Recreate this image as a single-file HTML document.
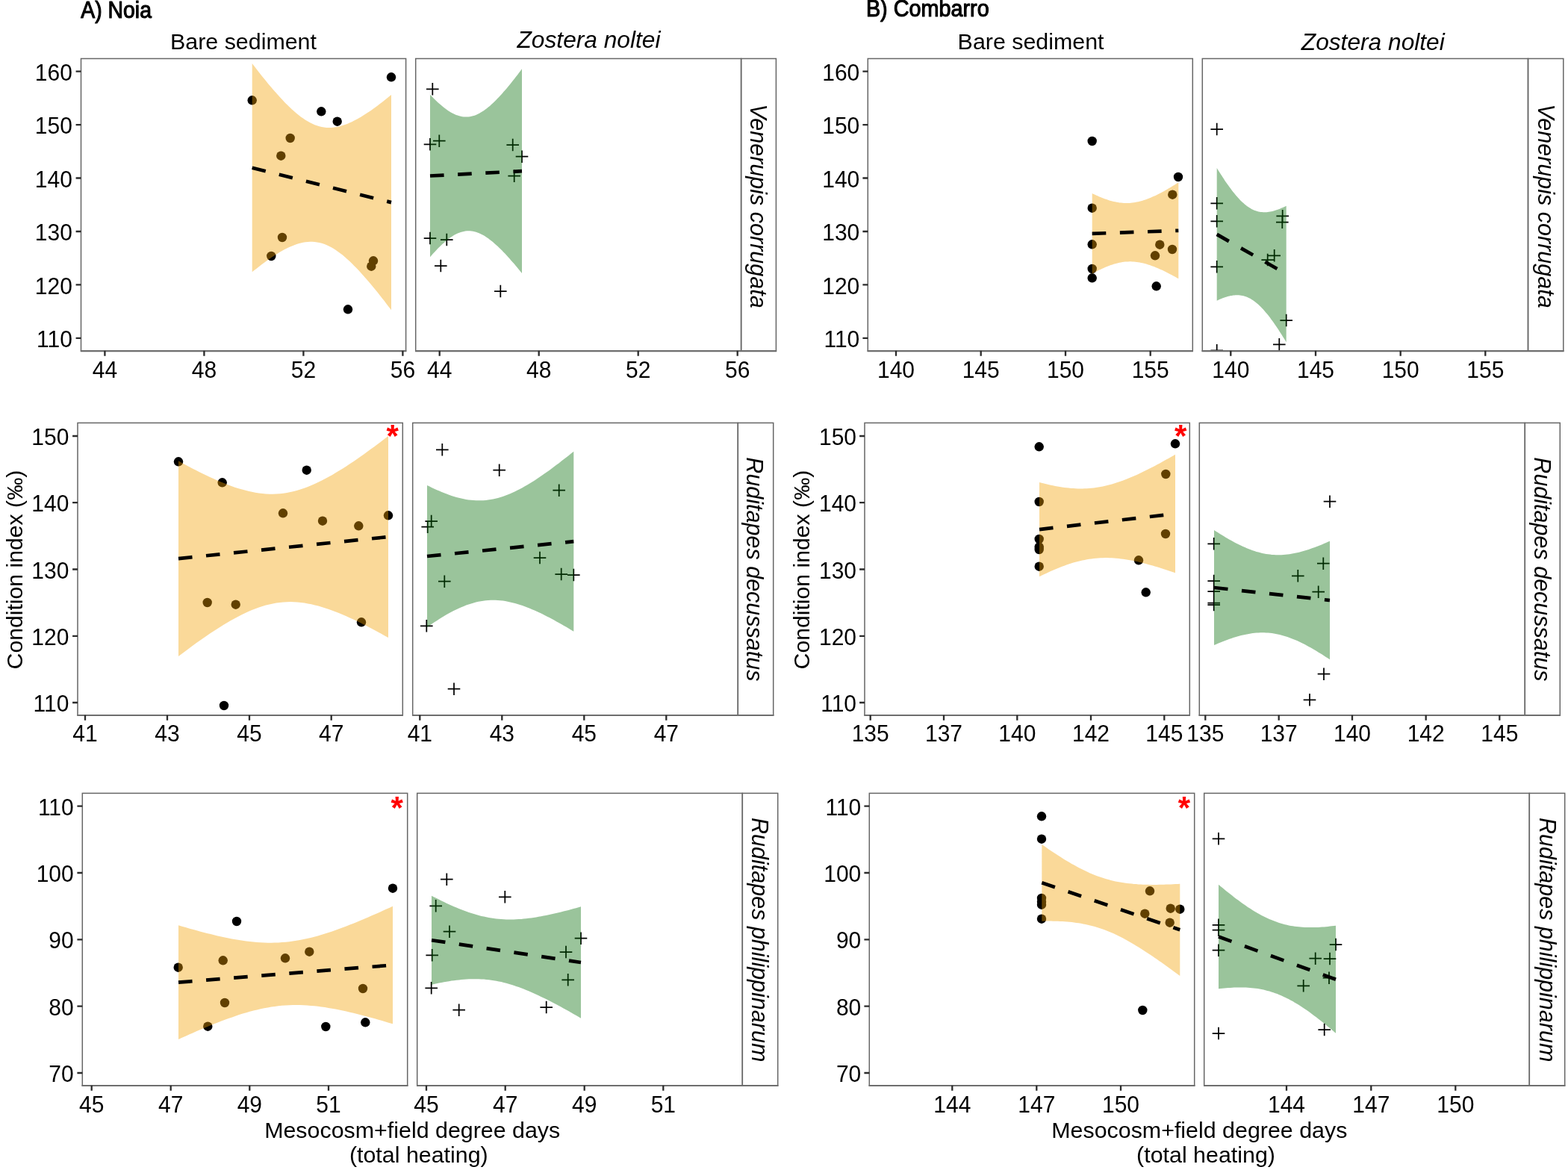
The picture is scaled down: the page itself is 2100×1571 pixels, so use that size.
<!DOCTYPE html>
<html lang="en">
<head>
<meta charset="utf-8">
<title>Condition index vs. mesocosm+field degree days</title>
<style>
html,body{margin:0;padding:0;background:#fff;}
body{width:2100px;height:1571px;}
svg{display:block;}
text{font-family:"Liberation Sans", Arial, Helvetica, sans-serif;fill:#000;}
.t{font-size:30.4px;}
.ax{font-size:30px;}
.it{font-style:italic;}
.ttl{font-size:29px;stroke:#000;stroke-width:1.05px;stroke-linejoin:round;}
.star{font-size:42px;font-weight:bold;fill:#ff0000;}
.bd{fill:none;stroke:#666666;stroke-width:1.5px;}
.bb{fill:none;stroke:#6e6e6e;stroke-width:2.2px;}
.tk{stroke:#2b2b2b;stroke-width:2.3px;fill:none;}
.pt{fill:#000;}
.cr{stroke:#000;stroke-width:1.75px;fill:none;}
.ln{stroke:#000;stroke-width:4.7px;stroke-dasharray:18.6 18.6;fill:none;}
.ro{fill:rgb(242,160,0);fill-opacity:0.4;}
.rg{fill:rgb(2,108,6);fill-opacity:0.4;}
</style>
</head>
<body>
<svg width="2100" height="1571" viewBox="0 0 2100 1571">
<rect x="0" y="0" width="2100" height="1571" fill="#ffffff"/>
<defs>
<clipPath id="cA1"><rect x="108.5" y="78.5" width="435.1" height="391.3"/></clipPath>
<clipPath id="cA2"><rect x="556.7" y="78.5" width="435.9" height="391.3"/></clipPath>
<clipPath id="cB1"><rect x="1162.3" y="78.5" width="435.0" height="391.3"/></clipPath>
<clipPath id="cB2"><rect x="1610.3" y="78.5" width="436.2" height="391.3"/></clipPath>
<clipPath id="cA3"><rect x="104.0" y="566.4" width="435.3" height="391.4"/></clipPath>
<clipPath id="cA4"><rect x="552.7" y="566.4" width="435.6" height="391.4"/></clipPath>
<clipPath id="cB3"><rect x="1158.0" y="566.4" width="435.3" height="391.4"/></clipPath>
<clipPath id="cB4"><rect x="1606.3" y="566.4" width="436.0" height="391.4"/></clipPath>
<clipPath id="cA5"><rect x="110.3" y="1062.4" width="435.4" height="391.4"/></clipPath>
<clipPath id="cA6"><rect x="558.7" y="1062.4" width="435.6" height="391.4"/></clipPath>
<clipPath id="cB5"><rect x="1164.3" y="1062.4" width="435.4" height="391.4"/></clipPath>
<clipPath id="cB6"><rect x="1612.7" y="1062.4" width="435.6" height="391.4"/></clipPath>
</defs>
<g id="panel-A1">
<rect x="108.5" y="78.5" width="435.1" height="391.3" fill="#fff"/>
<g clip-path="url(#cA1)">
<circle class="pt" cx="524.0" cy="103.3" r="6.2"/>
<circle class="pt" cx="337.7" cy="134.3" r="6.2"/>
<circle class="pt" cx="430.3" cy="149.3" r="6.2"/>
<circle class="pt" cx="451.7" cy="162.7" r="6.2"/>
<circle class="pt" cx="388.7" cy="185.0" r="6.2"/>
<circle class="pt" cx="376.3" cy="208.7" r="6.2"/>
<circle class="pt" cx="378.0" cy="318.0" r="6.2"/>
<circle class="pt" cx="363.3" cy="343.0" r="6.2"/>
<circle class="pt" cx="500.0" cy="349.3" r="6.2"/>
<circle class="pt" cx="497.3" cy="356.7" r="6.2"/>
<circle class="pt" cx="466.0" cy="414.3" r="6.2"/>
<path class="ro" d="M337.7,85.0 L340.8,89.0 L343.9,93.0 L347.0,97.0 L350.1,100.9 L353.2,104.8 L356.3,108.6 L359.4,112.4 L362.5,116.1 L365.6,119.7 L368.8,123.3 L371.9,126.8 L375.0,130.3 L378.1,133.6 L381.2,136.9 L384.3,140.0 L387.4,143.1 L390.5,146.0 L393.6,148.8 L396.7,151.5 L399.8,154.0 L402.9,156.4 L406.0,158.6 L409.1,160.7 L412.2,162.6 L415.3,164.3 L418.4,165.8 L421.5,167.2 L424.6,168.3 L427.7,169.3 L430.9,170.0 L434.0,170.5 L437.1,170.9 L440.2,171.0 L443.3,171.0 L446.4,170.7 L449.5,170.3 L452.6,169.8 L455.7,169.0 L458.8,168.1 L461.9,167.1 L465.0,165.9 L468.1,164.6 L471.2,163.2 L474.3,161.6 L477.4,160.0 L480.5,158.3 L483.6,156.4 L486.7,154.5 L489.8,152.5 L492.9,150.5 L496.1,148.4 L499.2,146.2 L502.3,143.9 L505.4,141.7 L508.5,139.3 L511.6,136.9 L514.7,134.5 L517.8,132.0 L520.9,129.5 L524.0,127.0 L524.0,415.3 L520.9,411.2 L517.8,407.2 L514.7,403.1 L511.6,399.2 L508.5,395.2 L505.4,391.3 L502.3,387.5 L499.2,383.7 L496.1,380.0 L492.9,376.3 L489.8,372.7 L486.7,369.2 L483.6,365.7 L480.5,362.3 L477.4,359.1 L474.3,355.9 L471.2,352.8 L468.1,349.8 L465.0,347.0 L461.9,344.2 L458.8,341.6 L455.7,339.2 L452.6,336.9 L449.5,334.8 L446.4,332.8 L443.3,331.0 L440.2,329.4 L437.1,328.0 L434.0,326.8 L430.9,325.8 L427.7,325.0 L424.6,324.4 L421.5,324.0 L418.4,323.8 L415.3,323.7 L412.2,323.9 L409.1,324.2 L406.0,324.8 L402.9,325.4 L399.8,326.3 L396.7,327.3 L393.6,328.4 L390.5,329.7 L387.4,331.0 L384.3,332.5 L381.2,334.1 L378.1,335.8 L375.0,337.6 L371.9,339.5 L368.8,341.5 L365.6,343.5 L362.5,345.6 L359.4,347.8 L356.3,350.0 L353.2,352.3 L350.1,354.6 L347.0,356.9 L343.9,359.4 L340.8,361.8 L337.7,364.3Z"/>
<line class="ln" x1="337.7" y1="224.7" x2="524.0" y2="271.1"/>
</g>
<rect class="bd" x="108.5" y="78.5" width="435.1" height="391.3"/>
<path class="bb" d="M107.8,470.1H544.4"/>
<path class="tk" d="M140.4,469.8V476.7M273.4,469.8V476.7M406.4,469.8V476.7M539.4,469.8V476.7M108.5,95.6H101.6M108.5,167.1H101.6M108.5,238.5H101.6M108.5,310.0H101.6M108.5,381.4H101.6M108.5,452.9H101.6"/>
<text class="ax" text-anchor="middle" transform="translate(140.4,505.5) scale(1,1.07)">44</text>
<text class="ax" text-anchor="middle" transform="translate(273.4,505.5) scale(1,1.07)">48</text>
<text class="ax" text-anchor="middle" transform="translate(406.4,505.5) scale(1,1.07)">52</text>
<text class="ax" text-anchor="middle" transform="translate(539.4,505.5) scale(1,1.07)">56</text>
<text class="ax" text-anchor="end" transform="translate(96.9,107.7) scale(1,1.07)">160</text>
<text class="ax" text-anchor="end" transform="translate(96.9,179.2) scale(1,1.07)">150</text>
<text class="ax" text-anchor="end" transform="translate(96.9,250.6) scale(1,1.07)">140</text>
<text class="ax" text-anchor="end" transform="translate(96.9,322.1) scale(1,1.07)">130</text>
<text class="ax" text-anchor="end" transform="translate(96.9,393.5) scale(1,1.07)">120</text>
<text class="ax" text-anchor="end" transform="translate(96.9,465.0) scale(1,1.07)">110</text>
</g>
<g id="panel-A2">
<rect x="556.7" y="78.5" width="435.9" height="391.3" fill="#fff"/>
<g clip-path="url(#cA2)">
<path class="cr" d="M571.0,119.3H587.6M579.3,111.0V127.6M567.7,193.3H584.3M576.0,185.0V201.6M580.0,188.7H596.6M588.3,180.4V197.0M678.4,194.0H695.0M686.7,185.7V202.3M690.7,209.7H707.3M699.0,201.4V218.0M680.4,235.7H697.0M688.7,227.4V244.0M567.7,319.0H584.3M576.0,310.7V327.3M590.0,321.0H606.6M598.3,312.7V329.3M582.0,356.0H598.6M590.3,347.7V364.3M662.0,390.0H678.6M670.3,381.7V398.3"/>
<path class="rg" d="M576.0,126.7 L578.0,128.8 L580.1,130.9 L582.1,133.0 L584.2,135.0 L586.2,136.9 L588.3,138.7 L590.4,140.5 L592.4,142.3 L594.5,143.9 L596.5,145.5 L598.5,147.0 L600.6,148.4 L602.6,149.7 L604.7,150.9 L606.8,152.0 L608.8,153.0 L610.9,153.9 L612.9,154.6 L615.0,155.3 L617.0,155.8 L619.0,156.2 L621.1,156.5 L623.1,156.6 L625.2,156.6 L627.2,156.5 L629.3,156.2 L631.4,155.8 L633.4,155.3 L635.5,154.7 L637.5,153.9 L639.5,153.0 L641.6,152.0 L643.6,150.8 L645.7,149.6 L647.8,148.2 L649.8,146.8 L651.9,145.2 L653.9,143.6 L656.0,141.9 L658.0,140.1 L660.0,138.2 L662.1,136.2 L664.1,134.2 L666.2,132.1 L668.2,129.9 L670.3,127.7 L672.4,125.5 L674.4,123.1 L676.5,120.8 L678.5,118.4 L680.5,115.9 L682.6,113.4 L684.6,110.9 L686.7,108.3 L688.8,105.7 L690.8,103.1 L692.9,100.4 L694.9,97.8 L697.0,95.0 L699.0,92.3 L699.0,366.0 L697.0,363.5 L694.9,361.0 L692.9,358.5 L690.8,356.0 L688.8,353.6 L686.7,351.2 L684.6,348.9 L682.6,346.6 L680.5,344.3 L678.5,342.0 L676.5,339.8 L674.4,337.7 L672.4,335.6 L670.3,333.5 L668.2,331.5 L666.2,329.6 L664.1,327.7 L662.1,325.9 L660.0,324.1 L658.0,322.5 L656.0,320.9 L653.9,319.3 L651.9,317.9 L649.8,316.6 L647.8,315.3 L645.7,314.2 L643.6,313.2 L641.6,312.3 L639.5,311.5 L637.5,310.8 L635.5,310.2 L633.4,309.8 L631.4,309.5 L629.3,309.3 L627.2,309.2 L625.2,309.3 L623.1,309.5 L621.1,309.9 L619.0,310.4 L617.0,311.0 L615.0,311.7 L612.9,312.6 L610.9,313.5 L608.8,314.6 L606.8,315.8 L604.7,317.2 L602.6,318.6 L600.6,320.1 L598.5,321.7 L596.5,323.4 L594.5,325.2 L592.4,327.0 L590.4,329.0 L588.3,331.0 L586.2,333.1 L584.2,335.2 L582.1,337.4 L580.1,339.6 L578.0,341.9 L576.0,344.3Z"/>
<line class="ln" x1="576.0" y1="235.5" x2="699.0" y2="229.2"/>
</g>
<rect class="bd" x="556.7" y="78.5" width="435.9" height="391.3"/>
<rect class="bd" x="992.6" y="78.5" width="46.8" height="391.3"/>
<text class="t it" style="font-size:30.5px" text-anchor="middle" transform="translate(1005.3,275.9) rotate(90)">Venerupis corrugata</text>
<path class="bb" d="M556.0,470.1H1040.2"/>
<path class="tk" d="M588.7,469.8V476.7M721.7,469.8V476.7M854.7,469.8V476.7M987.7,469.8V476.7"/>
<text class="ax" text-anchor="middle" transform="translate(588.7,505.5) scale(1,1.07)">44</text>
<text class="ax" text-anchor="middle" transform="translate(721.7,505.5) scale(1,1.07)">48</text>
<text class="ax" text-anchor="middle" transform="translate(854.7,505.5) scale(1,1.07)">52</text>
<text class="ax" text-anchor="middle" transform="translate(987.7,505.5) scale(1,1.07)">56</text>
</g>
<g id="panel-B1">
<rect x="1162.3" y="78.5" width="435.0" height="391.3" fill="#fff"/>
<g clip-path="url(#cB1)">
<circle class="pt" cx="1462.7" cy="189.0" r="6.2"/>
<circle class="pt" cx="1578.0" cy="237.0" r="6.2"/>
<circle class="pt" cx="1570.3" cy="260.7" r="6.2"/>
<circle class="pt" cx="1462.7" cy="278.7" r="6.2"/>
<circle class="pt" cx="1462.7" cy="327.3" r="6.2"/>
<circle class="pt" cx="1553.3" cy="327.7" r="6.2"/>
<circle class="pt" cx="1570.0" cy="334.0" r="6.2"/>
<circle class="pt" cx="1547.0" cy="342.3" r="6.2"/>
<circle class="pt" cx="1462.7" cy="360.0" r="6.2"/>
<circle class="pt" cx="1462.7" cy="372.3" r="6.2"/>
<circle class="pt" cx="1548.7" cy="383.3" r="6.2"/>
<path class="ro" d="M1462.7,259.0 L1464.6,259.9 L1466.6,260.8 L1468.5,261.7 L1470.4,262.6 L1472.3,263.4 L1474.3,264.2 L1476.2,265.0 L1478.1,265.7 L1480.0,266.4 L1482.0,267.1 L1483.9,267.8 L1485.8,268.4 L1487.7,268.9 L1489.7,269.4 L1491.6,269.9 L1493.5,270.3 L1495.5,270.7 L1497.4,271.1 L1499.3,271.4 L1501.2,271.6 L1503.2,271.8 L1505.1,271.9 L1507.0,272.0 L1508.9,272.0 L1510.9,272.0 L1512.8,271.9 L1514.7,271.7 L1516.6,271.5 L1518.6,271.3 L1520.5,271.0 L1522.4,270.6 L1524.4,270.2 L1526.3,269.8 L1528.2,269.3 L1530.1,268.7 L1532.1,268.1 L1534.0,267.5 L1535.9,266.8 L1537.8,266.0 L1539.8,265.3 L1541.7,264.5 L1543.6,263.6 L1545.5,262.8 L1547.5,261.9 L1549.4,260.9 L1551.3,260.0 L1553.3,259.0 L1555.2,258.0 L1557.1,257.0 L1559.0,255.9 L1561.0,254.8 L1562.9,253.7 L1564.8,252.6 L1566.7,251.5 L1568.7,250.3 L1570.6,249.1 L1572.5,247.9 L1574.4,246.7 L1576.4,245.5 L1578.3,244.3 L1578.3,373.3 L1576.4,372.2 L1574.4,371.1 L1572.5,370.1 L1570.6,369.0 L1568.7,368.0 L1566.7,367.0 L1564.8,365.9 L1562.9,365.0 L1561.0,364.0 L1559.0,363.1 L1557.1,362.1 L1555.2,361.2 L1553.3,360.4 L1551.3,359.5 L1549.4,358.7 L1547.5,357.9 L1545.5,357.1 L1543.6,356.4 L1541.7,355.7 L1539.8,355.0 L1537.8,354.4 L1535.9,353.8 L1534.0,353.2 L1532.1,352.7 L1530.1,352.3 L1528.2,351.9 L1526.3,351.5 L1524.4,351.2 L1522.4,350.9 L1520.5,350.7 L1518.6,350.5 L1516.6,350.4 L1514.7,350.3 L1512.8,350.3 L1510.9,350.4 L1508.9,350.5 L1507.0,350.6 L1505.1,350.8 L1503.2,351.1 L1501.2,351.4 L1499.3,351.8 L1497.4,352.2 L1495.5,352.7 L1493.5,353.2 L1491.6,353.8 L1489.7,354.4 L1487.7,355.0 L1485.8,355.7 L1483.9,356.5 L1482.0,357.2 L1480.0,358.0 L1478.1,358.9 L1476.2,359.8 L1474.3,360.7 L1472.3,361.6 L1470.4,362.6 L1468.5,363.6 L1466.6,364.6 L1464.6,365.6 L1462.7,366.7Z"/>
<line class="ln" x1="1462.7" y1="312.9" x2="1578.3" y2="308.8"/>
</g>
<rect class="bd" x="1162.3" y="78.5" width="435.0" height="391.3"/>
<path class="bb" d="M1161.5,470.1H1598.0"/>
<path class="tk" d="M1200.0,469.8V476.7M1313.7,469.8V476.7M1427.0,469.8V476.7M1540.7,469.8V476.7M1162.3,95.6H1155.4M1162.3,167.1H1155.4M1162.3,238.5H1155.4M1162.3,310.0H1155.4M1162.3,381.4H1155.4M1162.3,452.9H1155.4"/>
<text class="ax" text-anchor="middle" transform="translate(1200.0,505.5) scale(1,1.07)">140</text>
<text class="ax" text-anchor="middle" transform="translate(1313.7,505.5) scale(1,1.07)">145</text>
<text class="ax" text-anchor="middle" transform="translate(1427.0,505.5) scale(1,1.07)">150</text>
<text class="ax" text-anchor="middle" transform="translate(1540.7,505.5) scale(1,1.07)">155</text>
<text class="ax" text-anchor="end" transform="translate(1151.3,107.7) scale(1,1.07)">160</text>
<text class="ax" text-anchor="end" transform="translate(1151.3,179.2) scale(1,1.07)">150</text>
<text class="ax" text-anchor="end" transform="translate(1151.3,250.6) scale(1,1.07)">140</text>
<text class="ax" text-anchor="end" transform="translate(1151.3,322.1) scale(1,1.07)">130</text>
<text class="ax" text-anchor="end" transform="translate(1151.3,393.5) scale(1,1.07)">120</text>
<text class="ax" text-anchor="end" transform="translate(1151.3,465.0) scale(1,1.07)">110</text>
</g>
<g id="panel-B2">
<rect x="1610.3" y="78.5" width="436.2" height="391.3" fill="#fff"/>
<g clip-path="url(#cB2)">
<path class="cr" d="M1621.4,173.0H1638.0M1629.7,164.7V181.3M1621.4,272.3H1638.0M1629.7,264.0V280.6M1621.4,296.3H1638.0M1629.7,288.0V304.6M1709.4,289.3H1726.0M1717.7,281.0V297.6M1709.0,297.6H1725.6M1717.3,289.3V305.9M1698.4,342.3H1715.0M1706.7,334.0V350.6M1689.4,348.0H1706.0M1697.7,339.7V356.3M1621.4,357.3H1638.0M1629.7,349.0V365.6M1714.4,429.0H1731.0M1722.7,420.7V437.3M1705.0,461.3H1721.6M1713.3,453.0V469.6M1621.4,469.3H1638.0M1629.7,461.0V477.6"/>
<path class="rg" d="M1629.7,225.0 L1631.2,227.5 L1632.8,230.0 L1634.4,232.4 L1635.9,234.8 L1637.5,237.2 L1639.0,239.6 L1640.5,241.9 L1642.1,244.2 L1643.7,246.4 L1645.2,248.6 L1646.8,250.7 L1648.3,252.8 L1649.9,254.9 L1651.4,256.9 L1653.0,258.8 L1654.5,260.7 L1656.0,262.5 L1657.6,264.3 L1659.2,266.0 L1660.7,267.7 L1662.2,269.2 L1663.8,270.7 L1665.4,272.1 L1666.9,273.5 L1668.5,274.8 L1670.0,275.9 L1671.5,277.1 L1673.1,278.1 L1674.7,279.0 L1676.2,279.9 L1677.8,280.7 L1679.3,281.4 L1680.9,282.0 L1682.4,282.5 L1684.0,283.0 L1685.5,283.4 L1687.0,283.7 L1688.6,284.0 L1690.2,284.1 L1691.7,284.2 L1693.2,284.3 L1694.8,284.2 L1696.4,284.2 L1697.9,284.0 L1699.5,283.8 L1701.0,283.6 L1702.5,283.2 L1704.1,282.9 L1705.7,282.5 L1707.2,282.1 L1708.8,281.6 L1710.3,281.1 L1711.9,280.5 L1713.4,279.9 L1715.0,279.3 L1716.5,278.6 L1718.0,277.9 L1719.6,277.2 L1721.2,276.5 L1722.7,275.7 L1722.7,458.3 L1721.2,455.8 L1719.6,453.2 L1718.0,450.8 L1716.5,448.3 L1715.0,445.9 L1713.4,443.5 L1711.9,441.1 L1710.3,438.8 L1708.8,436.5 L1707.2,434.2 L1705.7,432.0 L1704.1,429.8 L1702.5,427.7 L1701.0,425.6 L1699.5,423.6 L1697.9,421.6 L1696.4,419.7 L1694.8,417.9 L1693.2,416.1 L1691.7,414.3 L1690.2,412.7 L1688.6,411.1 L1687.0,409.5 L1685.5,408.1 L1684.0,406.7 L1682.4,405.4 L1680.9,404.2 L1679.3,403.0 L1677.8,401.9 L1676.2,401.0 L1674.7,400.0 L1673.1,399.2 L1671.5,398.5 L1670.0,397.8 L1668.5,397.2 L1666.9,396.7 L1665.4,396.3 L1663.8,396.0 L1662.2,395.7 L1660.7,395.5 L1659.2,395.3 L1657.6,395.3 L1656.0,395.3 L1654.5,395.3 L1653.0,395.4 L1651.4,395.6 L1649.9,395.9 L1648.3,396.1 L1646.8,396.5 L1645.2,396.8 L1643.7,397.3 L1642.1,397.7 L1640.5,398.2 L1639.0,398.8 L1637.5,399.3 L1635.9,400.0 L1634.4,400.6 L1632.8,401.3 L1631.2,402.0 L1629.7,402.7Z"/>
<line class="ln" x1="1629.7" y1="313.9" x2="1722.7" y2="367.0"/>
</g>
<rect class="bd" x="1610.3" y="78.5" width="436.2" height="391.3"/>
<rect class="bd" x="2046.5" y="78.5" width="47.3" height="391.3"/>
<text class="t it" style="font-size:30.5px" text-anchor="middle" transform="translate(2060.3,275.9) rotate(90)">Venerupis corrugata</text>
<path class="bb" d="M1609.5,470.1H2094.6"/>
<path class="tk" d="M1648.3,469.8V476.7M1762.0,469.8V476.7M1875.7,469.8V476.7M1989.3,469.8V476.7"/>
<text class="ax" text-anchor="middle" transform="translate(1648.3,505.5) scale(1,1.07)">140</text>
<text class="ax" text-anchor="middle" transform="translate(1762.0,505.5) scale(1,1.07)">145</text>
<text class="ax" text-anchor="middle" transform="translate(1875.7,505.5) scale(1,1.07)">150</text>
<text class="ax" text-anchor="middle" transform="translate(1989.3,505.5) scale(1,1.07)">155</text>
</g>
<g id="panel-A3">
<rect x="104.0" y="566.4" width="435.3" height="391.4" fill="#fff"/>
<g clip-path="url(#cA3)">
<circle class="pt" cx="239.0" cy="618.3" r="6.2"/>
<circle class="pt" cx="297.7" cy="646.3" r="6.2"/>
<circle class="pt" cx="410.7" cy="629.7" r="6.2"/>
<circle class="pt" cx="379.0" cy="687.3" r="6.2"/>
<circle class="pt" cx="432.0" cy="697.7" r="6.2"/>
<circle class="pt" cx="480.3" cy="704.3" r="6.2"/>
<circle class="pt" cx="520.0" cy="690.3" r="6.2"/>
<circle class="pt" cx="277.7" cy="807.0" r="6.2"/>
<circle class="pt" cx="315.7" cy="809.7" r="6.2"/>
<circle class="pt" cx="484.0" cy="833.3" r="6.2"/>
<circle class="pt" cx="300.0" cy="945.0" r="6.2"/>
<path class="ro" d="M239.0,617.3 L243.7,619.9 L248.4,622.4 L253.1,624.9 L257.7,627.4 L262.4,629.8 L267.1,632.2 L271.8,634.5 L276.5,636.8 L281.1,639.0 L285.8,641.1 L290.5,643.2 L295.2,645.2 L299.9,647.1 L304.6,649.0 L309.2,650.7 L313.9,652.4 L318.6,653.9 L323.3,655.3 L328.0,656.6 L332.7,657.8 L337.4,658.8 L342.0,659.7 L346.7,660.5 L351.4,661.0 L356.1,661.4 L360.8,661.7 L365.4,661.7 L370.1,661.6 L374.8,661.2 L379.5,660.7 L384.2,660.0 L388.9,659.1 L393.6,658.0 L398.2,656.8 L402.9,655.3 L407.6,653.8 L412.3,652.0 L417.0,650.1 L421.6,648.0 L426.3,645.8 L431.0,643.5 L435.7,641.1 L440.4,638.5 L445.1,635.9 L449.8,633.1 L454.4,630.3 L459.1,627.4 L463.8,624.4 L468.5,621.3 L473.2,618.2 L477.9,615.0 L482.5,611.7 L487.2,608.4 L491.9,605.0 L496.6,601.6 L501.3,598.2 L505.9,594.7 L510.6,591.2 L515.3,587.6 L520.0,584.0 L520.0,854.0 L515.3,851.4 L510.6,848.8 L505.9,846.2 L501.3,843.7 L496.6,841.2 L491.9,838.8 L487.2,836.4 L482.5,834.1 L477.9,831.8 L473.2,829.6 L468.5,827.4 L463.8,825.3 L459.1,823.3 L454.4,821.3 L449.8,819.4 L445.1,817.7 L440.4,816.0 L435.7,814.4 L431.0,812.9 L426.3,811.6 L421.6,810.4 L417.0,809.3 L412.3,808.4 L407.6,807.6 L402.9,806.9 L398.2,806.5 L393.6,806.2 L388.9,806.1 L384.2,806.2 L379.5,806.4 L374.8,806.9 L370.1,807.5 L365.4,808.4 L360.8,809.4 L356.1,810.6 L351.4,812.0 L346.7,813.5 L342.0,815.2 L337.4,817.1 L332.7,819.1 L328.0,821.2 L323.3,823.5 L318.6,825.9 L313.9,828.4 L309.2,831.0 L304.6,833.7 L299.9,836.5 L295.2,839.4 L290.5,842.4 L285.8,845.5 L281.1,848.6 L276.5,851.8 L271.8,855.0 L267.1,858.3 L262.4,861.6 L257.7,865.0 L253.1,868.5 L248.4,871.9 L243.7,875.5 L239.0,879.0Z"/>
<line class="ln" x1="239.0" y1="748.1" x2="520.0" y2="719.0"/>
</g>
<rect class="bd" x="104.0" y="566.4" width="435.3" height="391.4"/>
<path class="bb" d="M103.2,958.0H540.0"/>
<path class="tk" d="M114.0,957.8V964.7M224.0,957.8V964.7M334.0,957.8V964.7M443.7,957.8V964.7M104.0,584.0H97.1M104.0,673.2H97.1M104.0,762.5H97.1M104.0,851.8H97.1M104.0,941.0H97.1"/>
<text class="ax" text-anchor="middle" transform="translate(114.0,993.1) scale(1,1.07)">41</text>
<text class="ax" text-anchor="middle" transform="translate(224.0,993.1) scale(1,1.07)">43</text>
<text class="ax" text-anchor="middle" transform="translate(334.0,993.1) scale(1,1.07)">45</text>
<text class="ax" text-anchor="middle" transform="translate(443.7,993.1) scale(1,1.07)">47</text>
<text class="ax" text-anchor="end" transform="translate(92.4,596.1) scale(1,1.07)">150</text>
<text class="ax" text-anchor="end" transform="translate(92.4,685.4) scale(1,1.07)">140</text>
<text class="ax" text-anchor="end" transform="translate(92.4,774.6) scale(1,1.07)">130</text>
<text class="ax" text-anchor="end" transform="translate(92.4,863.9) scale(1,1.07)">120</text>
<text class="ax" text-anchor="end" transform="translate(92.4,953.1) scale(1,1.07)">110</text>
<text class="star" text-anchor="middle" x="525.8" y="597.5">*</text>
</g>
<g id="panel-A4">
<rect x="552.7" y="566.4" width="435.6" height="391.4" fill="#fff"/>
<g clip-path="url(#cA4)">
<path class="cr" d="M584.0,602.3H600.6M592.3,594.0V610.6M660.4,629.7H677.0M668.7,621.4V638.0M740.4,656.7H757.0M748.7,648.4V665.0M569.4,698.0H586.0M577.7,689.7V706.3M564.4,705.7H581.0M572.7,697.4V714.0M714.7,747.0H731.3M723.0,738.7V755.3M743.4,769.0H760.0M751.7,760.7V777.3M760.0,770.0H776.6M768.3,761.7V778.3M587.0,778.7H603.6M595.3,770.4V787.0M563.0,838.3H579.6M571.3,830.0V846.6M599.7,922.7H616.3M608.0,914.4V931.0"/>
<path class="rg" d="M572.0,650.0 L575.3,651.6 L578.5,653.2 L581.8,654.7 L585.1,656.2 L588.4,657.6 L591.6,659.0 L594.9,660.3 L598.2,661.6 L601.4,662.8 L604.7,663.9 L608.0,664.9 L611.3,665.9 L614.5,666.8 L617.8,667.5 L621.1,668.2 L624.3,668.9 L627.6,669.4 L630.9,669.8 L634.2,670.1 L637.4,670.3 L640.7,670.3 L644.0,670.3 L647.2,670.2 L650.5,669.9 L653.8,669.5 L657.1,669.0 L660.3,668.4 L663.6,667.7 L666.9,666.9 L670.1,665.9 L673.4,664.9 L676.7,663.8 L680.0,662.5 L683.2,661.2 L686.5,659.7 L689.8,658.2 L693.1,656.6 L696.3,654.9 L699.6,653.2 L702.9,651.3 L706.1,649.4 L709.4,647.5 L712.7,645.5 L716.0,643.4 L719.2,641.2 L722.5,639.1 L725.8,636.8 L729.0,634.6 L732.3,632.3 L735.6,629.9 L738.9,627.5 L742.1,625.1 L745.4,622.6 L748.7,620.2 L751.9,617.6 L755.2,615.1 L758.5,612.5 L761.8,609.9 L765.0,607.3 L768.3,604.7 L768.3,845.7 L765.0,843.7 L761.8,841.8 L758.5,839.8 L755.2,837.9 L751.9,836.1 L748.7,834.2 L745.4,832.4 L742.1,830.6 L738.9,828.8 L735.6,827.1 L732.3,825.4 L729.0,823.8 L725.8,822.1 L722.5,820.6 L719.2,819.1 L716.0,817.6 L712.7,816.2 L709.4,814.8 L706.1,813.5 L702.9,812.3 L699.6,811.1 L696.3,810.0 L693.1,809.0 L689.8,808.0 L686.5,807.2 L683.2,806.4 L680.0,805.7 L676.7,805.1 L673.4,804.6 L670.1,804.3 L666.9,804.0 L663.6,803.8 L660.3,803.7 L657.1,803.8 L653.8,804.0 L650.5,804.3 L647.2,804.7 L644.0,805.2 L640.7,805.8 L637.4,806.5 L634.2,807.4 L630.9,808.4 L627.6,809.4 L624.3,810.6 L621.1,811.9 L617.8,813.2 L614.5,814.7 L611.3,816.2 L608.0,817.8 L604.7,819.5 L601.4,821.3 L598.2,823.1 L594.9,825.1 L591.6,827.0 L588.4,829.1 L585.1,831.2 L581.8,833.3 L578.5,835.5 L575.3,837.7 L572.0,840.0Z"/>
<line class="ln" x1="572.0" y1="745.0" x2="768.3" y2="725.2"/>
</g>
<rect class="bd" x="552.7" y="566.4" width="435.6" height="391.4"/>
<rect class="bd" x="988.3" y="566.4" width="47.4" height="391.4"/>
<text class="t it" style="font-size:30.5px" text-anchor="middle" transform="translate(1000.3,762.4) rotate(90)">Ruditapes decussatus</text>
<path class="bb" d="M552.0,958.0H1036.5"/>
<path class="tk" d="M562.3,957.8V964.7M672.3,957.8V964.7M782.3,957.8V964.7M892.3,957.8V964.7"/>
<text class="ax" text-anchor="middle" transform="translate(562.3,993.1) scale(1,1.07)">41</text>
<text class="ax" text-anchor="middle" transform="translate(672.3,993.1) scale(1,1.07)">43</text>
<text class="ax" text-anchor="middle" transform="translate(782.3,993.1) scale(1,1.07)">45</text>
<text class="ax" text-anchor="middle" transform="translate(892.3,993.1) scale(1,1.07)">47</text>
</g>
<g id="panel-B3">
<rect x="1158.0" y="566.4" width="435.3" height="391.4" fill="#fff"/>
<g clip-path="url(#cB3)">
<circle class="pt" cx="1391.7" cy="598.3" r="6.2"/>
<circle class="pt" cx="1574.0" cy="594.3" r="6.2"/>
<circle class="pt" cx="1561.3" cy="635.0" r="6.2"/>
<circle class="pt" cx="1391.7" cy="672.0" r="6.2"/>
<circle class="pt" cx="1561.0" cy="715.0" r="6.2"/>
<circle class="pt" cx="1391.7" cy="722.0" r="6.2"/>
<circle class="pt" cx="1391.7" cy="732.3" r="6.2"/>
<circle class="pt" cx="1391.7" cy="736.0" r="6.2"/>
<circle class="pt" cx="1525.0" cy="750.3" r="6.2"/>
<circle class="pt" cx="1391.7" cy="758.7" r="6.2"/>
<circle class="pt" cx="1534.7" cy="793.3" r="6.2"/>
<path class="ro" d="M1392.0,646.0 L1395.0,646.8 L1398.1,647.6 L1401.1,648.3 L1404.1,649.0 L1407.2,649.7 L1410.2,650.3 L1413.2,650.9 L1416.3,651.5 L1419.3,652.0 L1422.3,652.5 L1425.4,652.9 L1428.4,653.3 L1431.4,653.6 L1434.5,653.9 L1437.5,654.1 L1440.5,654.3 L1443.6,654.4 L1446.6,654.4 L1449.6,654.4 L1452.7,654.3 L1455.7,654.2 L1458.7,654.0 L1461.8,653.7 L1464.8,653.4 L1467.8,653.0 L1470.9,652.5 L1473.9,652.0 L1476.9,651.4 L1480.0,650.7 L1483.0,650.0 L1486.0,649.2 L1489.1,648.4 L1492.1,647.5 L1495.1,646.6 L1498.2,645.6 L1501.2,644.5 L1504.2,643.4 L1507.3,642.3 L1510.3,641.1 L1513.3,639.8 L1516.4,638.5 L1519.4,637.2 L1522.4,635.9 L1525.5,634.5 L1528.5,633.1 L1531.5,631.6 L1534.6,630.1 L1537.6,628.6 L1540.6,627.1 L1543.7,625.5 L1546.7,623.9 L1549.7,622.3 L1552.8,620.7 L1555.8,619.0 L1558.8,617.3 L1561.9,615.6 L1564.9,613.9 L1567.9,612.2 L1571.0,610.5 L1574.0,608.7 L1574.0,767.3 L1571.0,766.2 L1567.9,765.2 L1564.9,764.2 L1561.9,763.2 L1558.8,762.2 L1555.8,761.2 L1552.8,760.3 L1549.7,759.3 L1546.7,758.4 L1543.7,757.6 L1540.6,756.7 L1537.6,755.9 L1534.6,755.0 L1531.5,754.3 L1528.5,753.5 L1525.5,752.8 L1522.4,752.1 L1519.4,751.5 L1516.4,750.8 L1513.3,750.3 L1510.3,749.7 L1507.3,749.3 L1504.2,748.8 L1501.2,748.4 L1498.2,748.1 L1495.1,747.8 L1492.1,747.5 L1489.1,747.3 L1486.0,747.2 L1483.0,747.1 L1480.0,747.1 L1476.9,747.2 L1473.9,747.3 L1470.9,747.5 L1467.8,747.7 L1464.8,748.0 L1461.8,748.4 L1458.7,748.8 L1455.7,749.3 L1452.7,749.9 L1449.6,750.5 L1446.6,751.2 L1443.6,752.0 L1440.5,752.8 L1437.5,753.6 L1434.5,754.6 L1431.4,755.5 L1428.4,756.6 L1425.4,757.7 L1422.3,758.8 L1419.3,760.0 L1416.3,761.2 L1413.2,762.4 L1410.2,763.8 L1407.2,765.1 L1404.1,766.5 L1401.1,767.9 L1398.1,769.3 L1395.0,770.8 L1392.0,772.3Z"/>
<line class="ln" x1="1392.0" y1="709.1" x2="1574.0" y2="688.0"/>
</g>
<rect class="bd" x="1158.0" y="566.4" width="435.3" height="391.4"/>
<path class="bb" d="M1157.2,958.0H1594.0"/>
<path class="tk" d="M1165.7,957.8V964.7M1264.0,957.8V964.7M1362.3,957.8V964.7M1461.0,957.8V964.7M1559.3,957.8V964.7M1158.0,584.0H1151.1M1158.0,673.2H1151.1M1158.0,762.5H1151.1M1158.0,851.8H1151.1M1158.0,941.0H1151.1"/>
<text class="ax" text-anchor="middle" transform="translate(1165.7,993.1) scale(1,1.07)">135</text>
<text class="ax" text-anchor="middle" transform="translate(1264.0,993.1) scale(1,1.07)">137</text>
<text class="ax" text-anchor="middle" transform="translate(1362.3,993.1) scale(1,1.07)">140</text>
<text class="ax" text-anchor="middle" transform="translate(1461.0,993.1) scale(1,1.07)">142</text>
<text class="ax" text-anchor="middle" transform="translate(1559.3,993.1) scale(1,1.07)">145</text>
<text class="ax" text-anchor="end" transform="translate(1147.0,596.1) scale(1,1.07)">150</text>
<text class="ax" text-anchor="end" transform="translate(1147.0,685.4) scale(1,1.07)">140</text>
<text class="ax" text-anchor="end" transform="translate(1147.0,774.6) scale(1,1.07)">130</text>
<text class="ax" text-anchor="end" transform="translate(1147.0,863.9) scale(1,1.07)">120</text>
<text class="ax" text-anchor="end" transform="translate(1147.0,953.1) scale(1,1.07)">110</text>
<text class="star" text-anchor="middle" x="1581.3" y="597.5">*</text>
</g>
<g id="panel-B4">
<rect x="1606.3" y="566.4" width="436.0" height="391.4" fill="#fff"/>
<g clip-path="url(#cB4)">
<path class="cr" d="M1772.7,671.7H1789.3M1781.0,663.4V680.0M1617.4,728.3H1634.0M1625.7,720.0V736.6M1764.0,754.7H1780.6M1772.3,746.4V763.0M1730.0,771.3H1746.6M1738.3,763.0V779.6M1617.4,778.0H1634.0M1625.7,769.7V786.3M1617.4,792.0H1634.0M1625.7,783.7V800.3M1757.4,792.7H1774.0M1765.7,784.4V801.0M1617.4,807.5H1634.0M1625.7,799.2V815.8M1617.4,810.0H1634.0M1625.7,801.7V818.3M1764.7,902.7H1781.3M1773.0,894.4V911.0M1745.7,937.3H1762.3M1754.0,929.0V945.6"/>
<path class="rg" d="M1626.0,710.0 L1628.6,711.7 L1631.2,713.3 L1633.8,715.0 L1636.3,716.6 L1638.9,718.1 L1641.5,719.7 L1644.1,721.2 L1646.7,722.7 L1649.2,724.1 L1651.8,725.6 L1654.4,726.9 L1657.0,728.3 L1659.6,729.5 L1662.2,730.8 L1664.8,732.0 L1667.3,733.1 L1669.9,734.2 L1672.5,735.3 L1675.1,736.3 L1677.7,737.2 L1680.2,738.1 L1682.8,738.9 L1685.4,739.6 L1688.0,740.3 L1690.6,740.9 L1693.2,741.4 L1695.8,741.9 L1698.3,742.3 L1700.9,742.6 L1703.5,742.9 L1706.1,743.1 L1708.7,743.2 L1711.2,743.3 L1713.8,743.3 L1716.4,743.2 L1719.0,743.0 L1721.6,742.8 L1724.2,742.5 L1726.8,742.2 L1729.3,741.8 L1731.9,741.3 L1734.5,740.8 L1737.1,740.3 L1739.7,739.7 L1742.2,739.0 L1744.8,738.3 L1747.4,737.5 L1750.0,736.7 L1752.6,735.9 L1755.2,735.0 L1757.8,734.1 L1760.3,733.2 L1762.9,732.2 L1765.5,731.2 L1768.1,730.2 L1770.7,729.2 L1773.2,728.1 L1775.8,727.0 L1778.4,725.8 L1781.0,724.7 L1781.0,883.3 L1778.4,881.6 L1775.8,879.9 L1773.2,878.2 L1770.7,876.6 L1768.1,875.0 L1765.5,873.4 L1762.9,871.8 L1760.3,870.3 L1757.8,868.8 L1755.2,867.3 L1752.6,865.9 L1750.0,864.5 L1747.4,863.1 L1744.8,861.8 L1742.2,860.5 L1739.7,859.3 L1737.1,858.1 L1734.5,857.0 L1731.9,855.9 L1729.3,854.9 L1726.8,853.9 L1724.2,853.0 L1721.6,852.2 L1719.0,851.4 L1716.4,850.7 L1713.8,850.0 L1711.2,849.4 L1708.7,848.9 L1706.1,848.5 L1703.5,848.1 L1700.9,847.8 L1698.3,847.6 L1695.8,847.4 L1693.2,847.3 L1690.6,847.3 L1688.0,847.3 L1685.4,847.4 L1682.8,847.6 L1680.2,847.8 L1677.7,848.1 L1675.1,848.5 L1672.5,848.9 L1669.9,849.4 L1667.3,849.9 L1664.8,850.5 L1662.2,851.1 L1659.6,851.8 L1657.0,852.5 L1654.4,853.3 L1651.8,854.1 L1649.2,855.0 L1646.7,855.8 L1644.1,856.8 L1641.5,857.7 L1638.9,858.7 L1636.3,859.7 L1633.8,860.7 L1631.2,861.8 L1628.6,862.9 L1626.0,864.0Z"/>
<line class="ln" x1="1626.0" y1="787.0" x2="1781.0" y2="804.0"/>
</g>
<rect class="bd" x="1606.3" y="566.4" width="436.0" height="391.4"/>
<rect class="bd" x="2042.3" y="566.4" width="47.0" height="391.4"/>
<text class="t it" style="font-size:30.5px" text-anchor="middle" transform="translate(2055.3,762.4) rotate(90)">Ruditapes decussatus</text>
<path class="bb" d="M1605.5,958.0H2090.1"/>
<path class="tk" d="M1614.3,957.8V964.7M1712.7,957.8V964.7M1811.0,957.8V964.7M1909.7,957.8V964.7M2008.3,957.8V964.7"/>
<text class="ax" text-anchor="middle" transform="translate(1614.3,993.1) scale(1,1.07)">135</text>
<text class="ax" text-anchor="middle" transform="translate(1712.7,993.1) scale(1,1.07)">137</text>
<text class="ax" text-anchor="middle" transform="translate(1811.0,993.1) scale(1,1.07)">140</text>
<text class="ax" text-anchor="middle" transform="translate(1909.7,993.1) scale(1,1.07)">142</text>
<text class="ax" text-anchor="middle" transform="translate(2008.3,993.1) scale(1,1.07)">145</text>
</g>
<g id="panel-A5">
<rect x="110.3" y="1062.4" width="435.4" height="391.4" fill="#fff"/>
<g clip-path="url(#cA5)">
<circle class="pt" cx="526.0" cy="1189.7" r="6.2"/>
<circle class="pt" cx="317.0" cy="1234.0" r="6.2"/>
<circle class="pt" cx="414.3" cy="1274.7" r="6.2"/>
<circle class="pt" cx="382.0" cy="1283.3" r="6.2"/>
<circle class="pt" cx="298.7" cy="1286.3" r="6.2"/>
<circle class="pt" cx="238.7" cy="1295.7" r="6.2"/>
<circle class="pt" cx="486.0" cy="1324.0" r="6.2"/>
<circle class="pt" cx="301.0" cy="1343.0" r="6.2"/>
<circle class="pt" cx="489.3" cy="1369.3" r="6.2"/>
<circle class="pt" cx="278.3" cy="1374.7" r="6.2"/>
<circle class="pt" cx="436.3" cy="1375.0" r="6.2"/>
<path class="ro" d="M239.0,1239.3 L243.8,1240.7 L248.6,1242.1 L253.3,1243.5 L258.1,1244.8 L262.9,1246.1 L267.7,1247.4 L272.5,1248.7 L277.3,1249.9 L282.1,1251.1 L286.8,1252.3 L291.6,1253.4 L296.4,1254.4 L301.2,1255.5 L306.0,1256.4 L310.8,1257.4 L315.5,1258.2 L320.3,1259.0 L325.1,1259.8 L329.9,1260.4 L334.7,1261.0 L339.4,1261.5 L344.2,1262.0 L349.0,1262.3 L353.8,1262.5 L358.6,1262.7 L363.4,1262.7 L368.1,1262.6 L372.9,1262.4 L377.7,1262.1 L382.5,1261.7 L387.3,1261.2 L392.1,1260.6 L396.9,1259.8 L401.6,1259.0 L406.4,1258.1 L411.2,1257.0 L416.0,1255.9 L420.8,1254.7 L425.6,1253.4 L430.3,1252.0 L435.1,1250.5 L439.9,1249.0 L444.7,1247.4 L449.5,1245.7 L454.2,1244.0 L459.0,1242.3 L463.8,1240.4 L468.6,1238.6 L473.4,1236.7 L478.2,1234.7 L482.9,1232.7 L487.7,1230.7 L492.5,1228.7 L497.3,1226.6 L502.1,1224.5 L506.9,1222.4 L511.6,1220.3 L516.4,1218.1 L521.2,1215.9 L526.0,1213.7 L526.0,1371.3 L521.2,1369.9 L516.4,1368.5 L511.6,1367.1 L506.9,1365.7 L502.1,1364.3 L497.3,1363.0 L492.5,1361.7 L487.7,1360.4 L482.9,1359.2 L478.2,1358.0 L473.4,1356.8 L468.6,1355.7 L463.8,1354.6 L459.0,1353.6 L454.2,1352.6 L449.5,1351.6 L444.7,1350.7 L439.9,1349.9 L435.1,1349.1 L430.3,1348.5 L425.6,1347.8 L420.8,1347.3 L416.0,1346.9 L411.2,1346.5 L406.4,1346.2 L401.6,1346.1 L396.9,1346.0 L392.1,1346.0 L387.3,1346.2 L382.5,1346.4 L377.7,1346.8 L372.9,1347.3 L368.1,1347.9 L363.4,1348.6 L358.6,1349.4 L353.8,1350.3 L349.0,1351.3 L344.2,1352.4 L339.4,1353.6 L334.7,1354.8 L329.9,1356.2 L325.1,1357.6 L320.3,1359.1 L315.5,1360.7 L310.8,1362.4 L306.0,1364.0 L301.2,1365.8 L296.4,1367.6 L291.6,1369.4 L286.8,1371.3 L282.1,1373.3 L277.3,1375.2 L272.5,1377.2 L267.7,1379.3 L262.9,1381.3 L258.1,1383.4 L253.3,1385.5 L248.6,1387.7 L243.8,1389.8 L239.0,1392.0Z"/>
<line class="ln" x1="239.0" y1="1315.7" x2="526.0" y2="1292.5"/>
</g>
<rect class="bd" x="110.3" y="1062.4" width="435.4" height="391.4"/>
<path class="bb" d="M109.5,1454.0H546.5"/>
<path class="tk" d="M122.7,1453.8V1460.7M228.7,1453.8V1460.7M334.3,1453.8V1460.7M440.0,1453.8V1460.7M110.3,1079.7H103.4M110.3,1169.0H103.4M110.3,1258.3H103.4M110.3,1347.7H103.4M110.3,1437.0H103.4"/>
<text class="ax" text-anchor="middle" transform="translate(122.7,1489.8) scale(1,1.07)">45</text>
<text class="ax" text-anchor="middle" transform="translate(228.7,1489.8) scale(1,1.07)">47</text>
<text class="ax" text-anchor="middle" transform="translate(334.3,1489.8) scale(1,1.07)">49</text>
<text class="ax" text-anchor="middle" transform="translate(440.0,1489.8) scale(1,1.07)">51</text>
<text class="ax" text-anchor="end" transform="translate(98.7,1091.8) scale(1,1.07)">110</text>
<text class="ax" text-anchor="end" transform="translate(98.7,1181.1) scale(1,1.07)">100</text>
<text class="ax" text-anchor="end" transform="translate(98.7,1270.4) scale(1,1.07)">90</text>
<text class="ax" text-anchor="end" transform="translate(98.7,1359.8) scale(1,1.07)">80</text>
<text class="ax" text-anchor="end" transform="translate(98.7,1449.1) scale(1,1.07)">70</text>
<text class="star" text-anchor="middle" x="531.7" y="1096.3">*</text>
</g>
<g id="panel-A6">
<rect x="558.7" y="1062.4" width="435.6" height="391.4" fill="#fff"/>
<g clip-path="url(#cA6)">
<path class="cr" d="M590.0,1177.7H606.6M598.3,1169.4V1186.0M668.0,1201.3H684.6M676.3,1193.0V1209.6M575.4,1213.3H592.0M583.7,1205.0V1221.6M593.7,1247.7H610.3M602.0,1239.4V1256.0M769.7,1256.7H786.3M778.0,1248.4V1265.0M749.7,1275.0H766.3M758.0,1266.7V1283.3M570.4,1279.3H587.0M578.7,1271.0V1287.6M752.4,1312.3H769.0M760.7,1304.0V1320.6M569.4,1323.3H586.0M577.7,1315.0V1331.6M723.4,1349.0H740.0M731.7,1340.7V1357.3M606.4,1352.7H623.0M614.7,1344.4V1361.0"/>
<path class="rg" d="M578.0,1199.7 L581.3,1201.4 L584.7,1203.1 L588.0,1204.8 L591.3,1206.5 L594.7,1208.1 L598.0,1209.7 L601.3,1211.2 L604.7,1212.7 L608.0,1214.2 L611.3,1215.6 L614.7,1217.0 L618.0,1218.3 L621.3,1219.6 L624.7,1220.8 L628.0,1222.0 L631.3,1223.1 L634.7,1224.1 L638.0,1225.1 L641.3,1226.0 L644.7,1226.9 L648.0,1227.6 L651.3,1228.3 L654.7,1229.0 L658.0,1229.5 L661.3,1230.0 L664.7,1230.4 L668.0,1230.8 L671.3,1231.1 L674.7,1231.3 L678.0,1231.4 L681.3,1231.5 L684.7,1231.5 L688.0,1231.4 L691.3,1231.3 L694.7,1231.1 L698.0,1230.9 L701.3,1230.6 L704.7,1230.2 L708.0,1229.8 L711.3,1229.4 L714.7,1228.9 L718.0,1228.4 L721.3,1227.8 L724.7,1227.2 L728.0,1226.6 L731.3,1226.0 L734.7,1225.3 L738.0,1224.6 L741.3,1223.8 L744.7,1223.0 L748.0,1222.3 L751.3,1221.4 L754.7,1220.6 L758.0,1219.8 L761.3,1218.9 L764.7,1218.0 L768.0,1217.1 L771.3,1216.2 L774.7,1215.2 L778.0,1214.3 L778.0,1363.7 L774.7,1361.8 L771.3,1359.8 L768.0,1357.9 L764.7,1356.0 L761.3,1354.1 L758.0,1352.3 L754.7,1350.4 L751.3,1348.6 L748.0,1346.8 L744.7,1345.0 L741.3,1343.3 L738.0,1341.5 L734.7,1339.8 L731.3,1338.1 L728.0,1336.5 L724.7,1334.9 L721.3,1333.3 L718.0,1331.7 L714.7,1330.2 L711.3,1328.7 L708.0,1327.3 L704.7,1325.9 L701.3,1324.6 L698.0,1323.3 L694.7,1322.1 L691.3,1320.9 L688.0,1319.8 L684.7,1318.7 L681.3,1317.7 L678.0,1316.8 L674.7,1315.9 L671.3,1315.1 L668.0,1314.4 L664.7,1313.8 L661.3,1313.2 L658.0,1312.7 L654.7,1312.3 L651.3,1311.9 L648.0,1311.6 L644.7,1311.4 L641.3,1311.3 L638.0,1311.2 L634.7,1311.2 L631.3,1311.2 L628.0,1311.3 L624.7,1311.5 L621.3,1311.7 L618.0,1312.0 L614.7,1312.4 L611.3,1312.7 L608.0,1313.2 L604.7,1313.6 L601.3,1314.2 L598.0,1314.7 L594.7,1315.3 L591.3,1315.9 L588.0,1316.6 L584.7,1317.3 L581.3,1318.0 L578.0,1318.7Z"/>
<line class="ln" x1="578.0" y1="1259.2" x2="778.0" y2="1289.0"/>
</g>
<rect class="bd" x="558.7" y="1062.4" width="435.6" height="391.4"/>
<rect class="bd" x="994.3" y="1062.4" width="47.4" height="391.4"/>
<text class="t it" style="font-size:30.5px" text-anchor="middle" transform="translate(1007.0,1258.7) rotate(90)">Ruditapes philippinarum</text>
<path class="bb" d="M558.0,1454.0H1042.5"/>
<path class="tk" d="M571.0,1453.8V1460.7M676.7,1453.8V1460.7M782.7,1453.8V1460.7M888.3,1453.8V1460.7"/>
<text class="ax" text-anchor="middle" transform="translate(571.0,1489.8) scale(1,1.07)">45</text>
<text class="ax" text-anchor="middle" transform="translate(676.7,1489.8) scale(1,1.07)">47</text>
<text class="ax" text-anchor="middle" transform="translate(782.7,1489.8) scale(1,1.07)">49</text>
<text class="ax" text-anchor="middle" transform="translate(888.3,1489.8) scale(1,1.07)">51</text>
</g>
<g id="panel-B5">
<rect x="1164.3" y="1062.4" width="435.4" height="391.4" fill="#fff"/>
<g clip-path="url(#cB5)">
<circle class="pt" cx="1395.0" cy="1093.3" r="6.2"/>
<circle class="pt" cx="1395.0" cy="1123.7" r="6.2"/>
<circle class="pt" cx="1395.0" cy="1203.0" r="6.2"/>
<circle class="pt" cx="1395.0" cy="1207.7" r="6.2"/>
<circle class="pt" cx="1395.0" cy="1211.7" r="6.2"/>
<circle class="pt" cx="1395.0" cy="1230.7" r="6.2"/>
<circle class="pt" cx="1540.0" cy="1193.3" r="6.2"/>
<circle class="pt" cx="1567.7" cy="1216.7" r="6.2"/>
<circle class="pt" cx="1580.3" cy="1217.7" r="6.2"/>
<circle class="pt" cx="1533.3" cy="1223.7" r="6.2"/>
<circle class="pt" cx="1566.7" cy="1235.7" r="6.2"/>
<circle class="pt" cx="1530.3" cy="1353.0" r="6.2"/>
<path class="ro" d="M1395.3,1131.0 L1398.4,1133.1 L1401.5,1135.3 L1404.5,1137.4 L1407.6,1139.5 L1410.7,1141.5 L1413.8,1143.6 L1416.9,1145.6 L1420.0,1147.5 L1423.0,1149.5 L1426.1,1151.4 L1429.2,1153.2 L1432.3,1155.1 L1435.4,1156.9 L1438.5,1158.6 L1441.5,1160.3 L1444.6,1162.0 L1447.7,1163.6 L1450.8,1165.1 L1453.9,1166.6 L1457.0,1168.0 L1460.0,1169.4 L1463.1,1170.7 L1466.2,1172.0 L1469.3,1173.2 L1472.4,1174.3 L1475.5,1175.3 L1478.5,1176.3 L1481.6,1177.3 L1484.7,1178.1 L1487.8,1178.9 L1490.9,1179.7 L1494.0,1180.4 L1497.0,1181.0 L1500.1,1181.5 L1503.2,1182.1 L1506.3,1182.5 L1509.4,1182.9 L1512.5,1183.3 L1515.5,1183.6 L1518.6,1183.9 L1521.7,1184.1 L1524.8,1184.4 L1527.9,1184.5 L1531.0,1184.7 L1534.0,1184.8 L1537.1,1184.8 L1540.2,1184.9 L1543.3,1184.9 L1546.4,1184.9 L1549.5,1184.9 L1552.5,1184.8 L1555.6,1184.8 L1558.7,1184.7 L1561.8,1184.6 L1564.9,1184.5 L1568.0,1184.4 L1571.0,1184.2 L1574.1,1184.1 L1577.2,1183.9 L1580.3,1183.7 L1580.3,1307.0 L1577.2,1304.7 L1574.1,1302.4 L1571.0,1300.2 L1568.0,1297.9 L1564.9,1295.7 L1561.8,1293.5 L1558.7,1291.3 L1555.6,1289.1 L1552.5,1287.0 L1549.5,1284.8 L1546.4,1282.7 L1543.3,1280.6 L1540.2,1278.5 L1537.1,1276.5 L1534.0,1274.4 L1531.0,1272.4 L1527.9,1270.5 L1524.8,1268.5 L1521.7,1266.7 L1518.6,1264.8 L1515.5,1263.0 L1512.5,1261.2 L1509.4,1259.5 L1506.3,1257.8 L1503.2,1256.1 L1500.1,1254.6 L1497.0,1253.0 L1494.0,1251.5 L1490.9,1250.1 L1487.8,1248.8 L1484.7,1247.5 L1481.6,1246.2 L1478.5,1245.1 L1475.5,1244.0 L1472.4,1242.9 L1469.3,1241.9 L1466.2,1241.0 L1463.1,1240.2 L1460.0,1239.4 L1457.0,1238.7 L1453.9,1238.0 L1450.8,1237.4 L1447.7,1236.8 L1444.6,1236.3 L1441.5,1235.9 L1438.5,1235.5 L1435.4,1235.1 L1432.3,1234.8 L1429.2,1234.6 L1426.1,1234.3 L1423.0,1234.1 L1420.0,1234.0 L1416.9,1233.8 L1413.8,1233.7 L1410.7,1233.7 L1407.6,1233.6 L1404.5,1233.6 L1401.5,1233.6 L1398.4,1233.7 L1395.3,1233.7Z"/>
<line class="ln" x1="1395.3" y1="1182.3" x2="1580.3" y2="1245.3"/>
</g>
<rect class="bd" x="1164.3" y="1062.4" width="435.4" height="391.4"/>
<path class="bb" d="M1163.5,1454.0H1600.5"/>
<path class="tk" d="M1275.3,1453.8V1460.7M1388.3,1453.8V1460.7M1501.0,1453.8V1460.7M1164.3,1079.7H1157.4M1164.3,1169.0H1157.4M1164.3,1258.3H1157.4M1164.3,1347.7H1157.4M1164.3,1437.0H1157.4"/>
<text class="ax" text-anchor="middle" transform="translate(1275.3,1489.8) scale(1,1.07)">144</text>
<text class="ax" text-anchor="middle" transform="translate(1388.3,1489.8) scale(1,1.07)">147</text>
<text class="ax" text-anchor="middle" transform="translate(1501.0,1489.8) scale(1,1.07)">150</text>
<text class="ax" text-anchor="end" transform="translate(1153.3,1091.8) scale(1,1.07)">110</text>
<text class="ax" text-anchor="end" transform="translate(1153.3,1181.1) scale(1,1.07)">100</text>
<text class="ax" text-anchor="end" transform="translate(1153.3,1270.4) scale(1,1.07)">90</text>
<text class="ax" text-anchor="end" transform="translate(1153.3,1359.8) scale(1,1.07)">80</text>
<text class="ax" text-anchor="end" transform="translate(1153.3,1449.1) scale(1,1.07)">70</text>
<text class="star" text-anchor="middle" x="1586.0" y="1096.3">*</text>
</g>
<g id="panel-B6">
<rect x="1612.7" y="1062.4" width="435.6" height="391.4" fill="#fff"/>
<g clip-path="url(#cB6)">
<path class="cr" d="M1623.7,1123.3H1640.3M1632.0,1115.0V1131.6M1623.7,1238.8H1640.3M1632.0,1230.5V1247.1M1623.7,1245.6H1640.3M1632.0,1237.3V1253.9M1623.7,1272.7H1640.3M1632.0,1264.4V1281.0M1623.7,1384.0H1640.3M1632.0,1375.7V1392.3M1780.7,1265.0H1797.3M1789.0,1256.7V1273.3M1753.4,1283.7H1770.0M1761.7,1275.4V1292.0M1772.7,1284.0H1789.3M1781.0,1275.7V1292.3M1771.7,1309.7H1788.3M1780.0,1301.4V1318.0M1737.4,1320.3H1754.0M1745.7,1312.0V1328.6M1765.4,1379.0H1782.0M1773.7,1370.7V1387.3"/>
<path class="rg" d="M1632.0,1184.7 L1634.6,1186.9 L1637.2,1189.1 L1639.8,1191.2 L1642.5,1193.4 L1645.1,1195.5 L1647.7,1197.6 L1650.3,1199.6 L1652.9,1201.7 L1655.5,1203.7 L1658.2,1205.6 L1660.8,1207.5 L1663.4,1209.4 L1666.0,1211.3 L1668.6,1213.1 L1671.2,1214.9 L1673.9,1216.6 L1676.5,1218.3 L1679.1,1219.9 L1681.7,1221.5 L1684.3,1223.0 L1687.0,1224.5 L1689.6,1225.9 L1692.2,1227.2 L1694.8,1228.5 L1697.4,1229.8 L1700.0,1231.0 L1702.7,1232.1 L1705.3,1233.1 L1707.9,1234.1 L1710.5,1235.1 L1713.1,1235.9 L1715.7,1236.7 L1718.3,1237.5 L1721.0,1238.2 L1723.6,1238.8 L1726.2,1239.4 L1728.8,1239.9 L1731.4,1240.3 L1734.0,1240.7 L1736.7,1241.0 L1739.3,1241.3 L1741.9,1241.6 L1744.5,1241.8 L1747.1,1241.9 L1749.8,1242.0 L1752.4,1242.1 L1755.0,1242.1 L1757.6,1242.1 L1760.2,1242.1 L1762.8,1242.0 L1765.5,1241.9 L1768.1,1241.7 L1770.7,1241.6 L1773.3,1241.4 L1775.9,1241.2 L1778.5,1240.9 L1781.2,1240.6 L1783.8,1240.3 L1786.4,1240.0 L1789.0,1239.7 L1789.0,1383.7 L1786.4,1381.5 L1783.8,1379.2 L1781.2,1377.0 L1778.5,1374.9 L1775.9,1372.7 L1773.3,1370.6 L1770.7,1368.5 L1768.1,1366.4 L1765.5,1364.4 L1762.8,1362.3 L1760.2,1360.4 L1757.6,1358.4 L1755.0,1356.5 L1752.4,1354.6 L1749.8,1352.8 L1747.1,1351.0 L1744.5,1349.2 L1741.9,1347.5 L1739.3,1345.8 L1736.7,1344.2 L1734.0,1342.7 L1731.4,1341.1 L1728.8,1339.7 L1726.2,1338.3 L1723.6,1336.9 L1721.0,1335.7 L1718.3,1334.4 L1715.7,1333.3 L1713.1,1332.2 L1710.5,1331.1 L1707.9,1330.2 L1705.3,1329.2 L1702.7,1328.4 L1700.0,1327.6 L1697.4,1326.9 L1694.8,1326.2 L1692.2,1325.6 L1689.6,1325.1 L1687.0,1324.6 L1684.3,1324.1 L1681.7,1323.8 L1679.1,1323.4 L1676.5,1323.2 L1673.9,1322.9 L1671.2,1322.7 L1668.6,1322.6 L1666.0,1322.5 L1663.4,1322.4 L1660.8,1322.4 L1658.2,1322.4 L1655.5,1322.5 L1652.9,1322.6 L1650.3,1322.7 L1647.7,1322.9 L1645.1,1323.0 L1642.5,1323.2 L1639.8,1323.5 L1637.2,1323.7 L1634.6,1324.0 L1632.0,1324.3Z"/>
<line class="ln" x1="1632.0" y1="1254.5" x2="1789.0" y2="1311.7"/>
</g>
<rect class="bd" x="1612.7" y="1062.4" width="435.6" height="391.4"/>
<rect class="bd" x="2048.3" y="1062.4" width="47.4" height="391.4"/>
<text class="t it" style="font-size:30.5px" text-anchor="middle" transform="translate(2062.0,1258.7) rotate(90)">Ruditapes philippinarum</text>
<path class="bb" d="M1612.0,1454.0H2096.4"/>
<path class="tk" d="M1723.0,1453.8V1460.7M1836.3,1453.8V1460.7M1949.3,1453.8V1460.7"/>
<text class="ax" text-anchor="middle" transform="translate(1723.0,1489.8) scale(1,1.07)">144</text>
<text class="ax" text-anchor="middle" transform="translate(1836.3,1489.8) scale(1,1.07)">147</text>
<text class="ax" text-anchor="middle" transform="translate(1949.3,1489.8) scale(1,1.07)">150</text>
</g>
<text class="ttl" style="font-size:28.4px" text-anchor="start" transform="translate(108.3,23.6) scale(1,1.09)">A) Noia</text>
<text class="ttl" style="font-size:28.8px" text-anchor="start" transform="translate(1159.9,21.8) scale(1,1.09)">B) Combarro</text>
<text class="t" text-anchor="middle" x="326.0" y="66.0">Bare sediment</text>
<text class="t it" style="font-size:31.7px" text-anchor="middle" x="788.5" y="63.5">Zostera noltei</text>
<text class="t" text-anchor="middle" x="1380.6" y="65.7">Bare sediment</text>
<text class="t it" style="font-size:31.7px" text-anchor="middle" x="1838.8" y="66.7">Zostera noltei</text>
<text class="t" style="font-size:30.2px" text-anchor="middle" transform="translate(30.0,763.0) rotate(-90)">Condition index (‰)</text>
<text class="t" style="font-size:30.2px" text-anchor="middle" transform="translate(1084.0,763.0) rotate(-90)">Condition index (‰)</text>
<text class="t" text-anchor="middle" x="552.2" y="1523.8">Mesocosm+field degree days</text>
<text class="t" text-anchor="middle" x="560.8" y="1557.2">(total heating)</text>
<text class="t" text-anchor="middle" x="1606.3" y="1523.8">Mesocosm+field degree days</text>
<text class="t" text-anchor="middle" x="1615.0" y="1557.2">(total heating)</text>
</svg>
</body>
</html>
